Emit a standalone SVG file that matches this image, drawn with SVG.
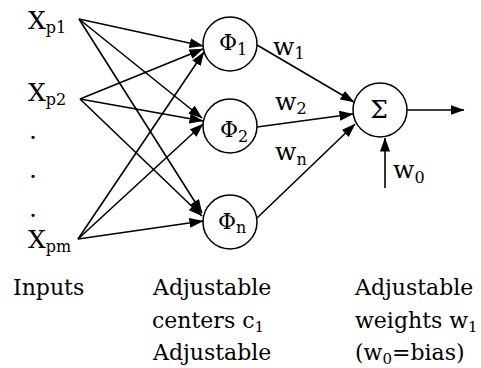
<svg xmlns="http://www.w3.org/2000/svg" width="481" height="368" viewBox="0 0 481 368">
<style>
text{font-family:"DejaVu Serif",serif}
.big{font-size:25px}
.lbl{font-size:22px}
.phi{font-size:22px}
.sub{font-size:16px}
.csub{font-size:15px}
.node{fill:#fff;stroke:#000;stroke-width:1.5}
.c line{stroke:#000;stroke-width:1.6;marker-end:url(#ah)}
</style>
<defs>
<marker id="ah" markerUnits="userSpaceOnUse" markerWidth="14" markerHeight="10" refX="13.5" refY="5" orient="auto">
<path d="M0,0 L14,5 L0,10 z" fill="#000"/>
</marker>
</defs>
<rect width="481" height="368" fill="#fff"/>
<g id="connectors" class="c">
<line x1="79" y1="19" x2="203" y2="46"/>
<line x1="79" y1="19" x2="202" y2="118"/>
<line x1="79" y1="19" x2="202" y2="213"/>
<line x1="80" y1="99" x2="203" y2="49"/>
<line x1="80" y1="99" x2="203" y2="121"/>
<line x1="80" y1="99" x2="202" y2="216"/>
<line x1="78" y1="239" x2="204" y2="52"/>
<line x1="78" y1="239" x2="203" y2="124"/>
<line x1="78" y1="239" x2="203" y2="221"/>
<line x1="257" y1="45" x2="354" y2="102"/>
<line x1="257" y1="127" x2="353" y2="114"/>
<line x1="257" y1="218" x2="355" y2="124"/>
<line x1="407" y1="110" x2="464" y2="110"/>
<line x1="385" y1="188" x2="385" y2="138"/>
</g>
<g fill="#000">
<g id="x_p1"><text x="28" y="29" class="big">X<tspan dy="4" class="sub">p1</tspan></text></g>
<g id="x_p2"><text x="28" y="101" class="big">X<tspan dy="4" class="sub">p2</tspan></text></g>
<g id="dots">
<text x="29" y="139" class="big">.</text>
<text x="29" y="178" class="big">.</text>
<text x="29" y="217" class="big">.</text>
</g>
<g id="x_pm"><text x="28" y="248" class="big">X<tspan dy="4" class="sub">pm</tspan></text></g>
<g id="phi1"><circle cx="230" cy="44" r="27" class="node"/><text x="219" y="50" class="phi">Φ<tspan dy="5" class="sub">1</tspan></text></g>
<g id="phi2"><circle cx="230" cy="126" r="27" class="node"/><text x="220" y="137" class="phi">Φ<tspan dy="5" class="sub">2</tspan></text></g>
<g id="phin"><circle cx="230" cy="222" r="27" class="node"/><text x="218" y="229" class="phi">Φ<tspan dy="4" class="sub">n</tspan></text></g>
<g id="sigma"><circle cx="380" cy="110" r="27" class="node"/><text x="379" y="118" class="big" text-anchor="middle">Σ</text></g>
<g id="weights">
<text x="273" y="55" class="big">w<tspan dy="4" class="sub">1</tspan></text>
<text x="275" y="110" class="big">w<tspan dy="4" class="sub">2</tspan></text>
<text x="275" y="160" class="big">w<tspan dy="5" class="sub">n</tspan></text>
<text x="393" y="178" class="big">w<tspan dy="5" class="sub">0</tspan></text>
</g>
<g id="captions">
<text x="13" y="295" class="lbl">Inputs</text>
<text x="153" y="295" class="lbl">Adjustable</text>
<text x="152" y="328" class="lbl">centers c<tspan dy="4" class="csub">1</tspan></text>
<text x="153" y="360" class="lbl">Adjustable</text>
<text x="355" y="295" class="lbl">Adjustable</text>
<text x="355" y="328" class="lbl">weights w<tspan dy="4" class="csub">1</tspan></text>
<text x="355" y="360" class="lbl">(w<tspan dy="4" class="csub">0</tspan><tspan dy="-4">=bias)</tspan></text>
</g>
</g>
</svg>
